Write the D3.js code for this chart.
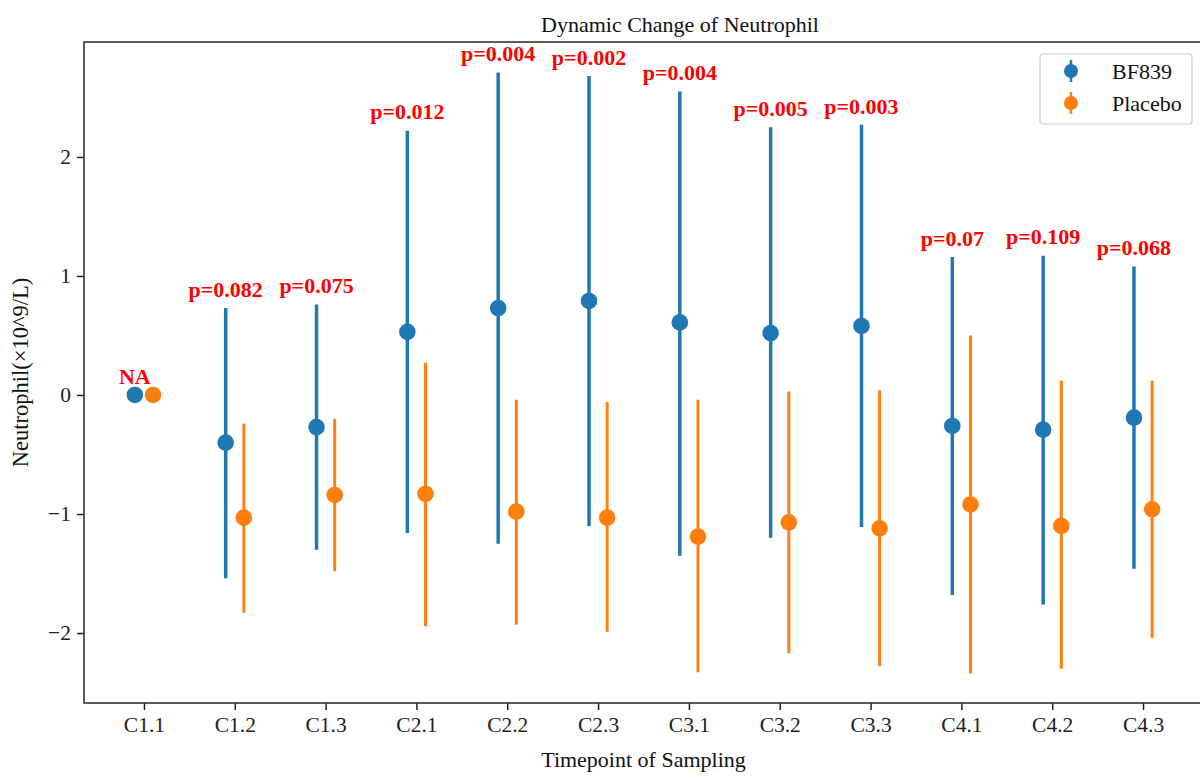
<!DOCTYPE html>
<html>
<head>
<meta charset="utf-8">
<script src="https://cdn.jsdelivr.net/npm/d3@7"></script>
<style>
  body { margin: 0; background: #fff; }
  svg { display: block; }
</style>
</head>
<body>
<svg id="chart"></svg>
<script>
// values
const categories = ["C1.1", "C1.2", "C1.3", "C2.1", "C2.2", "C2.3", "C3.1", "C3.2", "C3.3", "C4.1", "C4.2", "C4.3"];
const bf839Mean = [0, -0.40, -0.27, 0.53, 0.73, 0.79, 0.61, 0.52, 0.58, -0.26, -0.29, -0.19];
const bf839Low = [null, -1.54, -1.30, -1.16, -1.25, -1.10, -1.35, -1.20, -1.11, -1.68, -1.76, -1.46];
const bf839High = [null, 0.73, 0.76, 2.22, 2.71, 2.68, 2.55, 2.25, 2.27, 1.16, 1.17, 1.08];
const placeboMean = [0, -1.03, -0.84, -0.83, -0.98, -1.03, -1.19, -1.07, -1.12, -0.92, -1.10, -0.96];
const placeboLow = [null, -1.83, -1.48, -1.94, -1.93, -1.99, -2.33, -2.17, -2.28, -2.34, -2.30, -2.04];
const placeboHigh = [null, -0.24, -0.20, 0.27, -0.04, -0.06, -0.04, 0.03, 0.04, 0.50, 0.12, 0.12];
const pLabels = ["NA", "p=0.082", "p=0.075", "p=0.012", "p=0.004", "p=0.002", "p=0.004", "p=0.005", "p=0.003", "p=0.07", "p=0.109", "p=0.068"];
const yTicks = [-2, -1, 0, 1, 2];

const series = [
    { name: "BF839", color: "#1f77b4", mean: bf839Mean, low: bf839Low, high: bf839High, shift: -0.1, lw: 3.5 },
    { name: "Placebo", color: "#ff7f0e", mean: placeboMean, low: placeboLow, high: placeboHigh, shift: 0.1, lw: 3 }
];

const W = 1200, H = 776;
const margin = { top: 42, right: -3, bottom: 73, left: 84 };
const width = W - margin.left - margin.right;
const height = H - margin.top - margin.bottom;
const font = "'Liberation Serif', 'Times New Roman', serif";

const svg = d3.select("#chart").attr("width", W).attr("height", H)
    .style("font-family", font);

const g = svg.append("g").attr("transform", `translate(${margin.left},${margin.top})`);

// scales
const x = d3.scaleLinear().domain([-0.66, categories.length - 1 + 0.66]).range([0, width]);
const y = d3.scaleLinear().domain([-2.588, 2.966]).range([height, 0]);

// axes
const xAxis = g.append("g")
    .attr("transform", `translate(0,${height})`)
    .call(d3.axisBottom(x).tickValues(d3.range(categories.length)).tickFormat(i => categories[i]).tickSize(7).tickPadding(6));
const yAxis = g.append("g")
    .call(d3.axisLeft(y).tickValues(yTicks).tickFormat(d => d < 0 ? "\u2212" + Math.abs(d) : d).tickSize(7).tickPadding(6));

[xAxis, yAxis].forEach(a => {
    a.select(".domain").remove();
    a.selectAll(".tick line").attr("stroke", "#222").attr("stroke-width", 1.5);
    a.selectAll(".tick text").attr("fill", "#222").style("font-size", "21.5px").style("font-family", font);
});
xAxis.selectAll(".tick text").attr("dy", "0.75em");

// frame
g.append("rect")
    .attr("width", width).attr("height", height)
    .attr("fill", "none").attr("stroke", "#333").attr("stroke-width", 1.6);

// error bars and points
series.forEach(s => {
    const grp = g.append("g");
    grp.selectAll("line")
        .data(categories.map((c, i) => i).filter(i => s.low[i] !== null))
        .enter().append("line")
        .attr("x1", i => x(i + s.shift)).attr("x2", i => x(i + s.shift))
        .attr("y1", i => y(s.low[i])).attr("y2", i => y(s.high[i]))
        .attr("stroke", s.color).attr("stroke-width", s.lw);
    grp.selectAll("circle")
        .data(categories.map((c, i) => i))
        .enter().append("circle")
        .attr("cx", i => x(i + s.shift)).attr("cy", i => y(s.mean[i]))
        .attr("r", 8.3).attr("fill", s.color);
});

// p-value labels
g.selectAll(".plabel")
    .data(pLabels)
    .enter().append("text")
    .attr("class", "plabel")
    .attr("x", (d, i) => x(i - 0.1))
    .attr("y", (d, i) => y((bf839High[i] !== null ? bf839High[i] : bf839Mean[i]) + 0.095))
    .attr("text-anchor", "middle")
    .attr("fill", "#ff0000")
    .style("font-weight", "bold")
    .style("font-size", "22px")
    .text(d => d);

// titles
svg.append("text")
    .attr("x", 680).attr("y", 32)
    .attr("text-anchor", "middle").attr("fill", "#111")
    .style("font-size", "22px")
    .text("Dynamic Change of Neutrophil");

svg.append("text")
    .attr("x", margin.left + width / 2).attr("y", 767)
    .attr("text-anchor", "middle").attr("fill", "#111")
    .style("font-size", "22px")
    .text("Timepoint of Sampling");

svg.append("text")
    .attr("transform", `translate(28,${margin.top + height / 2}) rotate(-90)`)
    .attr("text-anchor", "middle").attr("fill", "#111")
    .style("font-size", "22.5px")
    .text("Neutrophil(\u00d710^9/L)");

// legend
const legend = svg.append("g").attr("transform", "translate(1040,54)");
legend.append("rect")
    .attr("width", 152).attr("height", 70).attr("rx", 3)
    .attr("fill", "#fff").attr("fill-opacity", 0.8)
    .attr("stroke", "#ccc").attr("stroke-width", 1.2);

series.forEach((s, k) => {
    const row = legend.append("g").attr("transform", `translate(31,${17 + k * 32})`);
    row.append("line").attr("y1", -11).attr("y2", 11)
        .attr("stroke", s.color).attr("stroke-width", 2.5);
    row.append("circle").attr("r", 7).attr("fill", s.color);
    row.append("text")
        .attr("x", 41).attr("y", 8)
        .attr("fill", "#111")
        .style("font-size", "22px")
        .text(s.name);
});
</script>
</body>
</html>
